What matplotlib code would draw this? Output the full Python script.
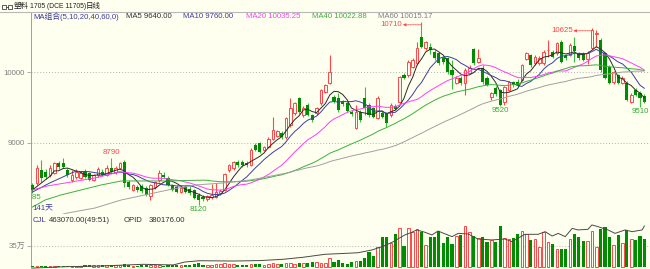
import numpy as np
import pandas as pd
import matplotlib
matplotlib.use('Agg')
import matplotlib.pyplot as plt
from matplotlib.patches import Rectangle
from matplotlib.lines import Line2D

plt.rcParams['font.family'] = ['Liberation Sans', 'Noto Sans CJK SC', 'DejaVu Sans']

# daily bars (141 days)
opens = [8400, 8430, 8610, 8580, 8540, 8570, 8710, 8710, 8610, 8470,
         8510, 8500, 8585, 8570, 8470, 8540, 8585, 8545, 8640, 8585,
         8640, 8725, 8440, 8330, 8370, 8380, 8360, 8245, 8370, 8470,
         8545, 8500, 8400, 8370, 8300, 8370, 8350, 8330, 8260, 8230,
         8200, 8230, 8230, 8280, 8330, 8610, 8640, 8720, 8720, 8710,
         8680, 8970, 9000, 8900, 8940, 9060, 9100, 9140, 9080, 9250,
         9420, 9630, 9390, 9530, 9390, 9420, 9560, 9720, 9850, 9650,
         9640, 9580, 9570, 9440, 9210, 9440, 9635, 9530, 9490, 9350,
         9420, 9420, 9390, 9520, 9580, 9960, 9960, 10075, 10130, 10500,
         10340, 10360, 10290, 10270, 10200, 10200, 10030, 9850, 9920, 9850,
         9990, 10330, 10150, 10060, 9920, 9650, 9780, 9750, 9580, 9750,
         9860, 9860, 9890, 10190, 10245, 10130, 10130, 10130, 10310, 10290,
         10270, 10430, 10230, 10250, 10380, 10270, 10270, 10190, 10345, 10540,
         10460, 10270, 10075, 9860, 9960, 9850, 9850, 9580, 9750, 9700, 9660]
highs = [8430, 8680, 8750, 8620, 8680, 8730, 8740, 8780, 8640, 8610,
         8620, 8600, 8620, 8590, 8560, 8650, 8620, 8680, 8790, 8670,
         8730, 8750, 8470, 8420, 8400, 8410, 8390, 8420, 8460, 8610,
         8590, 8530, 8420, 8400, 8390, 8400, 8380, 8350, 8280, 8260,
         8260, 8420, 8430, 8340, 8570, 8700, 8740, 8750, 8760, 8740,
         8920, 9000, 9010, 8960, 9080, 9370, 9180, 9160, 9370, 9630,
         9580, 9650, 9520, 9560, 9410, 9510, 9770, 9840, 10245, 9680,
         9700, 9600, 9590, 9460, 9530, 9460, 9790, 9560, 9510, 9660,
         9450, 9440, 9560, 9550, 9950, 9990, 10170, 10200, 10430, 10710,
         10450, 10420, 10310, 10290, 10230, 10220, 10170, 9950, 9950, 10060,
         10100, 10350, 10330, 10100, 9950, 9720, 9800, 9770, 9810, 9880,
         9880, 9900, 10120, 10290, 10260, 10240, 10230, 10310, 10460, 10310,
         10430, 10460, 10260, 10410, 10500, 10290, 10290, 10300, 10625, 10600,
         10480, 10290, 10100, 10020, 9980, 9950, 9870, 9700, 9780, 9730, 9690]
lows = [8285, 8400, 8440, 8480, 8520, 8550, 8620, 8640, 8520, 8440,
        8490, 8480, 8500, 8450, 8450, 8520, 8530, 8530, 8570, 8560,
        8620, 8370, 8340, 8310, 8300, 8290, 8240, 8190, 8350, 8440,
        8500, 8380, 8310, 8280, 8280, 8280, 8260, 8200, 8120, 8170,
        8170, 8200, 8210, 8260, 8310, 8580, 8610, 8660, 8660, 8650,
        8670, 8880, 8850, 8880, 8920, 9040, 9080, 9060, 9060, 9230,
        9400, 9410, 9370, 9380, 9300, 9400, 9540, 9700, 9830, 9560,
        9440, 9520, 9430, 9380, 9190, 9300, 9390, 9370, 9350, 9330,
        9350, 9220, 9370, 9460, 9560, 9900, 9940, 10060, 10110, 10340,
        10320, 10260, 10180, 10110, 10120, 9980, 9760, 9830, 9820, 9680,
        9970, 10110, 10130, 9840, 9800, 9600, 9660, 9520, 9535, 9730,
        9790, 9800, 9870, 10170, 10080, 10110, 10110, 10110, 10220, 10200,
        10250, 10130, 10180, 10230, 10150, 10180, 10160, 10120, 10330, 10360,
        10010, 9900, 9830, 9840, 9830, 9830, 9590, 9560, 9660, 9510, 9560]
closes = [8330, 8640, 8500, 8510, 8640, 8710, 8650, 8660, 8540, 8540,
          8585, 8570, 8515, 8470, 8540, 8625, 8545, 8640, 8585, 8640,
          8710, 8430, 8370, 8400, 8330, 8310, 8260, 8400, 8440, 8570,
          8515, 8400, 8330, 8300, 8360, 8300, 8290, 8220, 8180, 8200,
          8240, 8260, 8300, 8320, 8550, 8680, 8730, 8690, 8690, 8680,
          8890, 8900, 8870, 8940, 9060, 9180, 9160, 9080, 9350, 9490,
          9560, 9430, 9500, 9400, 9320, 9490, 9750, 9820, 10000, 9590,
          9460, 9550, 9450, 9410, 9440, 9320, 9490, 9390, 9370, 9640,
          9370, 9280, 9540, 9480, 9930, 9920, 10150, 10175, 10340, 10360,
          10430, 10320, 10200, 10130, 10140, 10000, 9960, 9920, 9850, 10030,
          10060, 10130, 10200, 9860, 9820, 9700, 9690, 9540, 9790, 9860,
          9820, 9820, 10100, 10270, 10100, 10220, 10200, 10290, 10320, 10220,
          10410, 10150, 10200, 10390, 10300, 10200, 10180, 10280, 10600, 10560,
          10030, 9920, 9850, 10000, 9850, 9920, 9610, 9680, 9680, 9640, 9580]
# volume in thousand lots
volume_k = [12, 14, 13, 12, 15, 13, 12, 14, 13, 12, 15,
            20, 25, 28, 26, 28, 27, 25, 30, 28, 26,
            45, 22, 20, 18, 22, 24, 28, 25, 22, 20,
            28, 30, 26, 28, 30, 32, 50, 55, 35, 30,
            35, 40, 45, 55, 40, 38, 35, 30, 28, 45,
            40, 50, 35, 45, 55, 40, 38, 55, 60, 50,
            60, 55, 60, 75, 80, 70,
            67, 150, 83, 106, 67, 44, 83, 100, 100, 139,
            250, 178, 333, 489, 489, 400, 544, 639, 344, 650,
            583, 622, 572, 361, 500, 489, 600, 400, 500, 372,
            511, 528, 678, 572, 517, 472, 489, 406, 444, 417,
            678, 472, 456, 472, 544, 594, 544, 444, 456, 322,
            583, 417, 378, 294, 289, 294, 456, 544, 500, 422,
            428, 600, 322, 628, 656, 489, 367, 533, 400, 611,
            456, 444, 511, 461]
# open interest (OPID), sampled along the line
opid_idx = [0, 7.9, 15.4, 25.3, 32.2, 34.9, 38.3, 45.9, 52.1, 57.3, 61.9, 66.9,
            71.5, 74.5, 77.7, 80, 82.3, 85.2, 86.8, 87.9, 89.8, 91.4, 92.8, 96,
            97.4, 99.7, 101.9, 105.1, 108.1, 109.7, 112.7, 115.7, 117.3, 118.9,
            120.3, 121.9, 123.5, 124.8, 127.1, 128, 129.4, 131.7, 133.3, 135.6,
            137.2, 139.5, 140]
opid_val = [111000, 120000, 124000, 135000, 131000, 150000, 158000, 156000,
            159000, 167000, 180000, 199000, 205000, 209000, 227000, 248000,
            276000, 323000, 340000, 355000, 340000, 323000, 348000, 312000,
            333000, 329000, 297000, 291000, 297000, 280000, 327000, 327000,
            344000, 316000, 333000, 312000, 365000, 355000, 359000, 387000,
            376000, 355000, 333000, 355000, 344000, 355000, 380176]

# moving averages: windows, colours, and the start of each line before
# a full window of bars exists
ma_windows = [5, 10, 20, 40, 60]
ma_colors = ['#2a2a2a', '#3c3ca8', '#ff3cff', '#3cb03c', '#a0a0a0']
ma_head_x = {5: [0], 10: [0, 4], 20: [0, 3.5, 8.8, 14.3],
             40: [0, 2.9, 6.5, 11.1, 15.7, 20.3, 25.7, 31],
             60: [6.3, 8.1, 14.3, 20.3, 25.7, 31, 37.2, 43.6, 49.8, 55.9]}
ma_head_y = {5: [8330], 10: [8300, 8430], 20: [8330, 8387, 8442, 8499],
             40: [8087, 8187, 8258, 8329, 8400, 8457, 8457, 8457],
             60: [7975, 8003, 8073, 8187, 8258, 8329, 8400, 8428, 8471, 8542]}

ma_legend = [('MA组合(5,10,20,40,60,0)', '#3a3aa0'), ('MA5 9640.00', '#303030'),
             ('MA10 9760.00', '#3c3ca8'), ('MA20 10035.25', '#ff3cff'),
             ('MA40 10022.88', '#3cb03c'), ('MA60 10015.17', '#808080')]
high_marks = [18, 89, 128]
low_marks = [0, 38, 107, 139]

bg = '#fffff0'
red = '#ff4646'
green = '#008c00'
green_wick = '#3cbc3c'
W, H = 650, 269

def fx(px):
    return px / W

def fy(py):
    return 1 - py / H

fig = plt.figure(figsize=(6.5, 2.69), dpi=100, facecolor=bg)
ax = fig.add_axes([fx(30.7), fy(214), 1 - fx(30.7), fy(12.3) - fy(214)], facecolor=bg)
vax = fig.add_axes([fx(30.7), 0, 1 - fx(30.7), fy(214)], facecolor=bg)

x = np.arange(len(closes))
o = np.array(opens, float)
h = np.array(highs, float)
l = np.array(lows, float)
c = np.array(closes, float)
up = c >= o

# candles
ax.vlines(x[up], l[up], h[up], color=red, lw=0.8, zorder=2)
ax.vlines(x[~up], l[~up], h[~up], color=green_wick, lw=0.8, zorder=2)
lo = np.minimum(o, c)
bh = np.maximum(np.abs(c - o), 8)
ax.bar(x[up], bh[up], bottom=lo[up], width=0.6, facecolor=bg, edgecolor=red,
       lw=0.7, zorder=3)
ax.bar(x[~up], bh[~up], bottom=lo[~up], width=0.72, color=green, lw=0, zorder=3)

# moving averages
cs = pd.Series(c)
for n, col in zip(ma_windows, ma_colors):
    m = cs.rolling(n).mean().values
    xs = list(ma_head_x[n]) + list(x[n - 1:])
    ys = list(ma_head_y[n]) + list(m[n - 1:])
    ax.plot(xs, ys, color=col, lw=0.7, zorder=4)

# extreme price labels
for i in high_marks:
    if i in (89, 128):
        yl = h[i] - 35
        ax.text(i - 4.4, yl, '%d' % h[i], color=red, fontsize=5.7,
                ha='right', va='center', zorder=6)
        ax.annotate('', xy=(i - 4.25, yl), xytext=(i - 0.15, yl),
                    arrowprops=dict(arrowstyle='-|>', color=red, lw=0.6,
                                    linestyle=(0, (1, 1)), mutation_scale=4,
                                    shrinkA=0, shrinkB=0), zorder=6)
    else:
        ax.text(i, h[i] + 20, '%d' % h[i], color=red, fontsize=5.7,
                ha='center', va='bottom', zorder=6)
for i in low_marks:
    ax.text(i, l[i] - 15, '%d' % l[i], color='#33aa33', fontsize=5.7,
            ha='center', va='top', zorder=6, clip_on=True)

for lvl in (9000, 10000):
    ax.axhline(lvl, color='#b4b4b4', lw=0.7, ls=(0, (1, 2)), zorder=1)

ax.set_xlim(-0.41, 141.3)
ax.set_ylim(7988, 10852)
ax.set_xticks([])
ax.set_yticks([9000, 10000])
ax.tick_params(axis='y', length=3, width=0.6, color='#a0a0a0',
               labelcolor='#808080', labelsize=5.7, pad=1)
for s in ('top', 'right'):
    ax.spines[s].set_visible(False)
ax.spines['left'].set_color('#a0a0a0')
ax.spines['bottom'].set_color('#c8c8c8')
ax.spines['left'].set_linewidth(0.7)
ax.spines['bottom'].set_linewidth(0.7)

# volume panel
v = np.array(volume_k, float) * 1000
vax.bar(x[up], v[up], width=0.6, facecolor=bg, edgecolor=red, lw=0.7, zorder=3)
vax.bar(x[~up], v[~up], width=0.72, color=green, lw=0, zorder=3)
vax.axhline(350000, color='#b4b4b4', lw=0.7, ls=(0, (1, 2)), zorder=1)
vax.set_xlim(-0.41, 141.3)
vax.set_ylim(-38300, 878400)
vax.set_xticks([])
vax.set_yticks([350000])
vax.set_yticklabels(['35万'])
vax.tick_params(axis='y', length=3, width=0.6, color='#a0a0a0',
                labelcolor='#808080', labelsize=5.7, pad=1)
for s in ('top', 'right', 'bottom'):
    vax.spines[s].set_visible(False)
vax.spines['left'].set_color('#a0a0a0')
vax.spines['left'].set_linewidth(0.7)

oax = vax.twinx()
oax.plot(opid_idx, opid_val, color='#484848', lw=0.7, zorder=4)
oax.set_ylim(105000, 457000)
oax.set_xlim(-0.41, 141.3)
oax.axis('off')

# title bar
fig.add_artist(Line2D([0, 1], [fy(12.3), fy(12.3)], color='#b8b8b8', lw=0.8))
fig.add_artist(Rectangle((fx(1.5), fy(9)), fx(4), fy(4.5) - fy(9), fill=False,
                         ec='#404040', lw=0.6))
fig.add_artist(Rectangle((fx(7.5), fy(9)), fx(4), fy(4.5) - fy(9), fill=False,
                         ec='#404040', lw=0.6))
fig.add_artist(Line2D([fx(5.5), fx(7.5)], [fy(6.7), fy(6.7)], color='#404040', lw=0.6))
fig.text(fx(13.5), fy(6.7), '塑料', fontsize=5.4, color='#202020', va='center')
fig.text(fx(29.5), fy(6.7), '1705 (DCE 11705)', fontsize=4.9, color='#202020', va='center')
fig.text(fx(86), fy(6.7), '日线', fontsize=5.4, color='#202020', va='center')

# MA legend row
for (txt, col), px in zip(ma_legend, [33, 126, 183, 246, 312, 378]):
    fig.text(fx(px), fy(16.7), txt, fontsize=5.6, color=col, va='center')

fig.text(fx(32), fy(208), '141天', fontsize=5.6, color='#3a3aa0', va='center')

# volume header
for txt, col, px in [('CJL', '#3a3aa0', 33), ('463070.00(49:51)', '#303030', 49),
                     ('OPID', '#303030', 124), ('380176.00', '#303030', 149)]:
    fig.text(fx(px), fy(220), txt, fontsize=5.6, color=col, va='center')

fig.savefig('out.png', dpi=100, facecolor=bg)
